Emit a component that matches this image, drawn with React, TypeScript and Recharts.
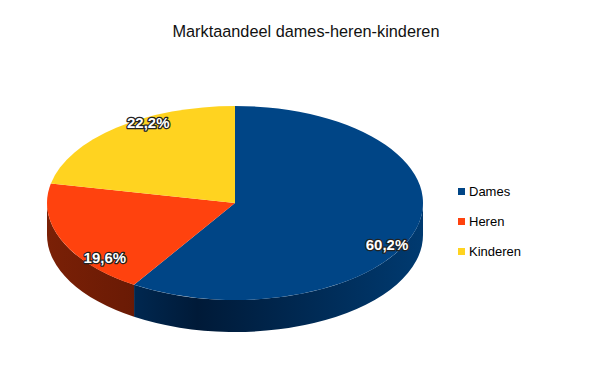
import { Legend, Pie, PieChart } from 'recharts';

const categories = ['Dames', 'Heren', 'Kinderen'];
const shares = [60.2, 19.6, 22.2];
const topColors = ['#004586', '#ff420e', '#ffd320'];
const sideDark = ['#001a38', '#5e1604', '#8a6a00'];
const sideLight = ['#003a70', '#7a2006', '#b08a00'];

const TITLE = 'Marktaandeel dames-heren-kinderen';

const RX = 188;
const RY = 97;
const DEPTH = 32;
const RAD = Math.PI / 180;

const data = categories.map((name, i) => ({ name, value: shares[i], idx: i }));

const pt = (cx: number, cy: number, a: number, dy = 0) =>
  `${cx + RX * Math.cos(a * RAD)},${cy - RY * Math.sin(a * RAD) + dy}`;

function Slice3D(props: any) {
  const { cx, cy, startAngle, endAngle, payload } = props;
  const i = payload?.idx ?? props.index ?? 0;
  const hi = Math.max(startAngle, endAngle);
  const lo = Math.min(startAngle, endAngle);
  const large = hi - lo > 180 ? 1 : 0;
  const top = `M${cx},${cy} L${pt(cx, cy, hi)} A${RX},${RY} 0 ${large} 1 ${pt(cx, cy, lo)} Z`;

  // front wall: part of the slice lying in the lower half of the ellipse
  const walls: string[] = [];
  for (const k of [-360, 0, 360]) {
    const a = Math.max(lo, -180 + k);
    const b = Math.min(hi, 0 + k);
    if (b > a) {
      walls.push(
        `M${pt(cx, cy, b)} A${RX},${RY} 0 0 1 ${pt(cx, cy, a)} L${pt(cx, cy, a, DEPTH)} A${RX},${RY} 0 0 0 ${pt(cx, cy, b, DEPTH)} Z`
      );
    }
  }

  return (
    <g>
      <defs>
        <linearGradient id={`side-${i}`} gradientUnits="userSpaceOnUse" x1={cx - RX} y1={0} x2={cx + RX} y2={0}>
          <stop offset="0%" stopColor={sideLight[i]} />
          <stop offset="40%" stopColor={sideDark[i]} />
          <stop offset="100%" stopColor={sideLight[i]} />
        </linearGradient>
      </defs>
      {walls.map((d, j) => (
        <path key={j} d={d} fill={`url(#side-${i})`} stroke="none" />
      ))}
      <path d={top} fill={topColors[i]} stroke="none" />
    </g>
  );
}

function SliceLabel(props: any) {
  const { cx, cy, midAngle, value } = props;
  const x = cx + 8 + 150 * Math.cos(midAngle * RAD);
  const y = cy + 9 - 116 * Math.sin(midAngle * RAD);
  return (
    <text
      x={x}
      y={y}
      textAnchor="middle"
      dominantBaseline="central"
      fill="#fff"
      stroke="#222"
      strokeWidth={2.5}
      paintOrder="stroke"
      strokeLinejoin="round"
      style={{ fontFamily: '"Liberation Sans", Arial, sans-serif', fontSize: 15, fontWeight: 700 }}
    >
      {String(value).replace('.', ',')}%
    </text>
  );
}

function LegendBox() {
  return (
    <div style={{ fontFamily: '"Liberation Sans", Arial, sans-serif', fontSize: 13, color: '#000' }}>
      {categories.map((c, i) => (
        <div key={c} style={{ display: 'flex', alignItems: 'center', height: 30 }}>
          <span style={{ width: 7, height: 7, background: topColors[i], marginRight: 4 }} />
          {c}
        </div>
      ))}
    </div>
  );
}

export default function App() {
  return (
    <div style={{ position: 'absolute', left: 0, top: 0, width: 598, height: 389, background: '#fff' }}>
      <div
        style={{
          position: 'absolute',
          top: 22,
          left: 0,
          width: 612,
          textAlign: 'center',
          fontFamily: '"Liberation Sans", Arial, sans-serif',
          fontSize: 16.3,
          color: '#111',
        }}
      >
        {TITLE}
      </div>
      <PieChart width={598} height={389}>
        <Pie
          data={data}
          dataKey="value"
          nameKey="name"
          cx={230}
          cy={198}
          outerRadius={RX}
          startAngle={90}
          endAngle={-270}
          shape={Slice3D}
          label={SliceLabel}
          labelLine={false}
          isAnimationActive={false}
        />
        <Legend
          layout="vertical"
          content={() => <LegendBox />}
          wrapperStyle={{ position: 'absolute', left: 458, top: 176, width: 100 }}
        />
      </PieChart>
    </div>
  );
}
